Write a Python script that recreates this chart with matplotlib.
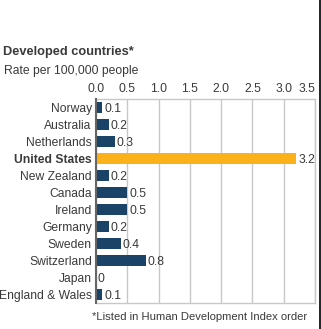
import matplotlib
matplotlib.use("Agg")
import matplotlib.pyplot as plt
from matplotlib.lines import Line2D

# --- dados ---
paises = ["Norway", "Australia", "Netherlands", "United States", "New Zealand",
          "Canada", "Ireland", "Germany", "Sweden", "Switzerland", "Japan",
          "England & Wales"]
taxas = [0.1, 0.2, 0.3, 3.2, 0.2, 0.5, 0.5, 0.2, 0.4, 0.8, 0.0, 0.1]
destaque = "United States"
ticks = [0.0, 0.5, 1.0, 1.5, 2.0, 2.5, 3.0, 3.5]

azul = "#1b4368"
laranja = "#fbb21a"
texto = "#3a3a3a"
grade = "#c8c8c8"

plt.rcParams["font.family"] = ["Liberation Sans", "DejaVu Sans"]

W, H = 321, 329
fig = plt.figure(figsize=(W / 100, H / 100), dpi=100)
ax = fig.add_axes([96 / W, 1 - 303 / H, 219 / W, 204 / H])

# --- barras ---
pos = list(range(len(paises)))
cores = [laranja if p == destaque else azul for p in paises]
ax.barh(pos, taxas, height=0.7, color=cores, zorder=3)

for y, v in zip(pos, taxas):
    ax.text(v + 0.03, y + 0.08, f"{v:g}", va="center", ha="left",
            fontsize=8.7, color=texto, zorder=4)

ax.set_xlim(0, 3.5)
ax.set_ylim(len(paises) - 0.5, -0.5)
ax.set_xticks(ticks)
ax.set_xticklabels([f"{t:.1f}" for t in ticks])
ax.set_yticks(pos)
ax.set_yticklabels(paises)
for lbl in ax.get_yticklabels():
    if lbl.get_text() == destaque:
        lbl.set_fontweight("bold")

ax.xaxis.tick_top()
ax.tick_params(axis="x", length=0, pad=3, labelsize=8.7, labelcolor=texto)
ax.tick_params(axis="y", length=0, pad=3, labelsize=8.7, labelcolor=texto)
# ultimo rotulo encostado a direita para nao cortar
ax.get_xticklabels()[-1].set_ha("right")
ax.grid(axis="x", color=grade, linewidth=1, zorder=0)

for s in ["top", "bottom", "right"]:
    ax.spines[s].set_color(grade)
    ax.spines[s].set_linewidth(1)
ax.spines["left"].set_color("#666666")
ax.spines["left"].set_linewidth(1.5)
ax.spines["left"].set_zorder(5)

# --- titulos ---
fig.text(3 / W, 1 - 52 / H, "Developed countries*", fontsize=9.2,
         fontweight="bold", color=texto, va="center", ha="left")
fig.text(4 / W, 1 - 71 / H, "Rate per 100,000 people", fontsize=8.7,
         color=texto, va="center", ha="left")
fig.text(307 / W, 1 - 317 / H, "*Listed in Human Development Index order",
         fontsize=8.1, color=texto, va="center", ha="right")

# linha da borda direita
fig.add_artist(Line2D([319.5 / W, 319.5 / W], [0, 1], color="#111111",
                      linewidth=1.3, transform=fig.transFigure))

fig.savefig("out.png", dpi=100)
